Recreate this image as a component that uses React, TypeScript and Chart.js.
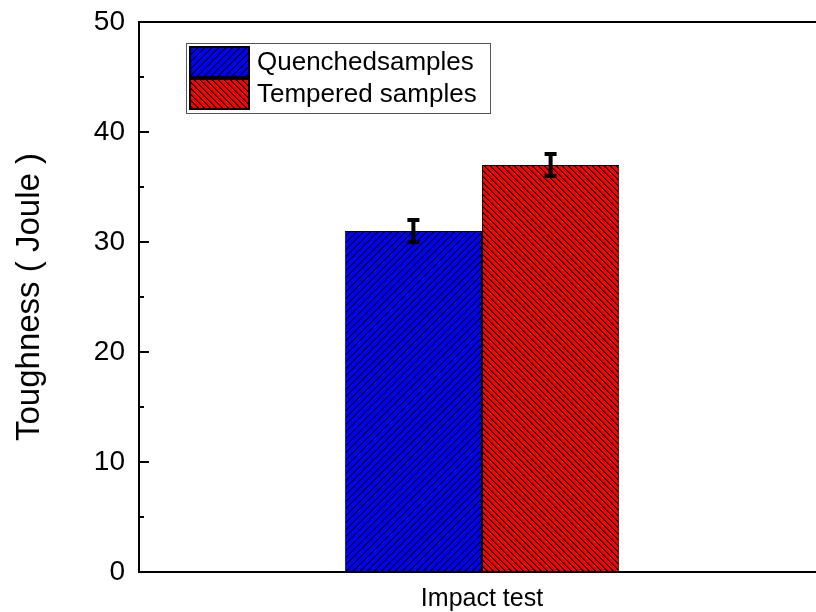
import React, { useEffect, useRef } from "react";
import { Chart, registerables } from "chart.js";

Chart.register(...registerables);

const categories = ["Impact test"];
const seriesLabels = ["Quenchedsamples", "Tempered samples"];
const quenched = [31];
const tempered = [37];
const quenchedErr = [1];
const temperedErr = [1];
const yMin = 0;
const yMax = 50;
const yStep = 10;
const yTitle = "Toughness ( Joule )";

const FONT = "'Liberation Sans', Arial, sans-serif";

function hatch(color: string, period: number, dir: "/" | "\\"): CanvasPattern | string {
  const c = document.createElement("canvas");
  const p = period;
  c.width = p;
  c.height = p;
  const g = c.getContext("2d");
  if (!g) return color;
  g.fillStyle = color;
  g.fillRect(0, 0, p, p);
  g.fillStyle = "#000";
  for (let i = 0; i < p; i++) {
    const yy = dir === "/" ? p - 1 - i : i;
    g.fillRect(i, yy, 1, 1);
    g.globalAlpha = 0.6;
    g.fillRect((i + 1) % p, yy, 1, 1);
    g.globalAlpha = 1;
  }
  const pat = g.createPattern(c, "repeat");
  return pat || color;
}

const decorPlugin = {
  id: "decor",
  afterDatasetsDraw(chart: any) {
    const ctx = chart.ctx;
    const y = chart.scales.y;
    ctx.save();
    const errs = [quenchedErr, temperedErr];
    chart.data.datasets.forEach((ds: any, di: number) => {
      const meta = chart.getDatasetMeta(di);
      meta.data.forEach((el: any, i: number) => {
        const v = ds.data[i];
        const e = errs[di][i];
        const yt = y.getPixelForValue(v + e);
        const yb = y.getPixelForValue(v - e);
        ctx.strokeStyle = "#000";
        ctx.lineWidth = 4;
        ctx.beginPath();
        ctx.moveTo(el.x, yt);
        ctx.lineTo(el.x, yb);
        ctx.stroke();
        ctx.beginPath();
        ctx.moveTo(el.x - 6, yt);
        ctx.lineTo(el.x + 6, yt);
        ctx.moveTo(el.x - 6, yb);
        ctx.lineTo(el.x + 6, yb);
        ctx.stroke();
      });
    });
    ctx.restore();
  },
  afterDraw(chart: any) {
    const ctx = chart.ctx;
    const area = chart.chartArea;
    const y = chart.scales.y;
    ctx.save();
    ctx.strokeStyle = "#000";
    ctx.lineWidth = 2;
    ctx.beginPath();
    ctx.moveTo(area.left - 1, area.top);
    ctx.lineTo(area.right + 2, area.top);
    ctx.stroke();
    for (let v = yMin; v <= yMax; v += yStep / 2) {
      const py = Math.round(y.getPixelForValue(v));
      const major = v % yStep === 0;
      ctx.beginPath();
      ctx.moveTo(area.left, py);
      ctx.lineTo(area.left + (major ? 10 : 5), py);
      ctx.stroke();
    }
    const lx = 186.5, ly = 43.5, lw = 304, lh = 70;
    ctx.fillStyle = "#fff";
    ctx.fillRect(lx, ly, lw, lh);
    ctx.lineWidth = 1;
    ctx.strokeStyle = "#555";
    ctx.strokeRect(lx, ly, lw, lh);
    const rows = [47, 79];
    chart.data.datasets.forEach((ds: any, i: number) => {
      const sy = rows[i];
      ctx.fillStyle = ds.backgroundColor;
      ctx.fillRect(190, sy, 59, 30);
      ctx.lineWidth = 2;
      ctx.strokeStyle = "#000";
      ctx.strokeRect(190, sy, 59, 30);
      ctx.fillStyle = "#000";
      ctx.font = `26px ${FONT}`;
      ctx.textBaseline = "middle";
      ctx.textAlign = "left";
      ctx.fillText(ds.label, 257, sy + 16);
    });
    ctx.restore();
  },
};

export default function App() {
  const ref = useRef<HTMLCanvasElement>(null);
  useEffect(() => {
    if (!ref.current) return;
    const chart = new Chart(ref.current, {
      type: "bar",
      data: {
        labels: categories,
        datasets: [
          {
            label: seriesLabels[0],
            data: quenched,
            backgroundColor: hatch("#0000ff", 7, "/") as any,
            borderColor: "#000",
            borderWidth: 1,
            borderSkipped: false,
          },
          {
            label: seriesLabels[1],
            data: tempered,
            backgroundColor: hatch("#ff0000", 6, "\\") as any,
            borderColor: "#000",
            borderWidth: 1,
            borderSkipped: false,
          },
        ],
      },
      options: {
        animation: false,
        responsive: false,
        devicePixelRatio: 1,
        layout: { padding: { top: 22, right: 0, left: 0, bottom: 0 } },
        plugins: { legend: { display: false }, tooltip: { enabled: false } },
        datasets: { bar: { categoryPercentage: 0.4, barPercentage: 1.0 } },
        scales: {
          x: {
            type: "category",
            grid: { display: false, drawTicks: false },
            border: { display: true, color: "#000", width: 2 },
            ticks: { color: "#000", font: { family: FONT, size: 25 }, padding: 12 },
            afterFit: (s: any) => { s.height = 40; s.paddingLeft = 0; s.paddingRight = 0; },
          },
          y: {
            min: yMin,
            max: yMax,
            grid: { display: false, drawTicks: false },
            border: { display: true, color: "#000", width: 2 },
            ticks: { stepSize: yStep, color: "#000", font: { family: FONT, size: 28 }, padding: 14 },
            title: {
              display: true,
              text: yTitle,
              color: "#000",
              font: { family: FONT, size: 33 },
              padding: { top: 10, bottom: 0 },
            },
            afterFit: (s: any) => { s.width = 139; s.paddingTop = 0; s.paddingBottom = 0; },
          },
        },
      },
      plugins: [decorPlugin],
    });
    return () => chart.destroy();
  }, []);
  return (
    <div style={{ position: "absolute", left: 0, top: 0, width: 816, height: 612, overflow: "hidden", background: "#fff" }}>
      <canvas ref={ref} width={825} height={612} style={{ display: "block" }} />
    </div>
  );
}
